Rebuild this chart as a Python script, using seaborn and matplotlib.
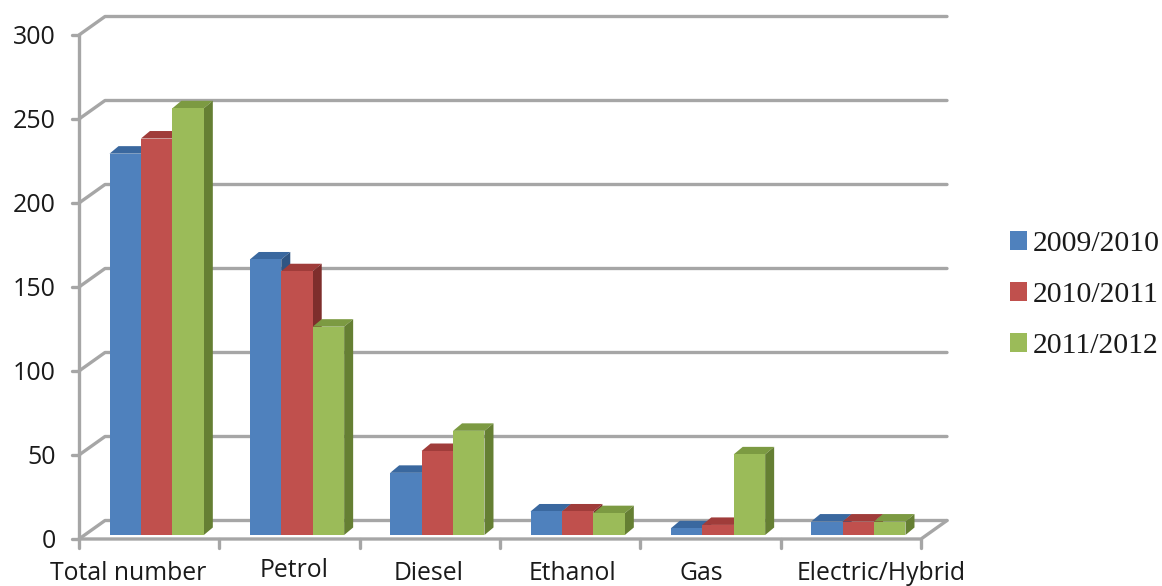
import matplotlib
matplotlib.use("Agg")
import matplotlib.pyplot as plt
import pandas as pd
import seaborn as sns
from matplotlib.patches import Polygon

# Vehicle counts per fuel type and season
categories = ["Total number", "Petrol", "Diesel", "Ethanol", "Gas", "Electric/Hybrid"]
seasons = ["2009/2010", "2010/2011", "2011/2012"]
values_2009 = [227, 164, 37, 14, 4, 8]
values_2010 = [236, 157, 50, 14, 6, 8]
values_2011 = [254, 124, 62, 13, 48, 8]
y_ticks = [0, 50, 100, 150, 200, 250, 300]

face_colors = ["#4F81BD", "#C0504D", "#9BBB59"]
top_colors = ["#3A689F", "#A03C3A", "#7C9A42"]
side_colors = ["#2F5583", "#7E2E2C", "#657F33"]
LINE = "#A6A6A6"

W, H = 1162, 586
fig = plt.figure(figsize=(W / 100, H / 100), dpi=100, facecolor="white")
ax = fig.add_axes([79 / W, 1 - 539 / H, (921 - 79) / W, (539 - 35) / H])

df = pd.DataFrame({
    "category": categories * 3,
    "season": [s for s in seasons for _ in categories],
    "value": values_2009 + values_2010 + values_2011,
})
sns.barplot(data=df, x="category", y="value", hue="season", order=categories,
            hue_order=seasons, palette=face_colors, width=0.672, gap=0,
            saturation=1, errorbar=None, ax=ax, legend=False)

ax.set_xlim(-0.5, 5.5)
ax.set_ylim(0, 300)
for s in ax.spines.values():
    s.set_visible(False)
ax.patch.set_visible(False)
ax.set_xlabel("")
ax.set_ylabel("")

# Pixel lengths expressed in data units for the oblique projection
px_x = 6 / (921 - 79)
px_y = 300 / (539 - 35)
wall_dx, wall_dy = 26 * px_x, 18.5 * px_y      # floor depth
front_dx, front_dy = 7.5 * px_x, 4 * px_y      # bar front face inset
bar_dx, bar_dy = 9 * px_x, 7.5 * px_y          # bar depth

left, right = -0.5, 5.5
kw = dict(color=LINE, lw=2.4, clip_on=False, solid_capstyle="round", zorder=1)
for t in y_ticks:
    ax.plot([left, left + wall_dx, right + wall_dx],
            [t, t + wall_dy, t + wall_dy], **kw)
    ax.plot([left - 7 * px_x, left], [t, t], **kw)
ax.plot([left, left], [0, 300], **kw)
ax.plot([left, right, right + wall_dx], [0, 0, wall_dy], **kw)
for i in range(7):
    ax.plot([left + i, left + i], [0, -9 * px_y], **kw)

# Extrude each bar: top and side faces behind a shifted front face
n = len(categories)
for idx, patch in enumerate(ax.patches[:3 * n]):
    series = idx // n
    x0 = patch.get_x() + front_dx
    x1 = x0 + patch.get_width()
    h = patch.get_height()
    base = front_dy
    z = 3 + series * 3
    top = Polygon([(x0, h + base), (x1, h + base),
                   (x1 + bar_dx, h + base + bar_dy), (x0 + bar_dx, h + base + bar_dy)],
                  closed=True, fc=top_colors[series], ec="none", clip_on=False, zorder=z)
    side = Polygon([(x1, base), (x1, h + base),
                    (x1 + bar_dx, h + base + bar_dy), (x1 + bar_dx, base + bar_dy)],
                   closed=True, fc=side_colors[series], ec="none", clip_on=False, zorder=z + 1)
    ax.add_patch(top)
    ax.add_patch(side)
    patch.set_x(x0)
    patch.set_y(base)
    patch.set_zorder(z + 2)
    patch.set_clip_on(False)
    patch.set_linewidth(0)

ax.set_xticks([])
ax.tick_params(axis="both", length=0)
ax.set_yticks(y_ticks)
ax.set_yticklabels([])
sans = "Open Sans"
for t in y_ticks:
    ax.text(left - 23.5 * px_x, t - 2 * px_y, str(t), ha="right", va="center", fontsize=18,
            family=sans, color="#1a1a1a", clip_on=False)

# Category captions sit slightly off the slot centres
nudges_x = [-21, 5, -1, 2, -9, 30]
nudges_y = [0, 3, 0, 0, 0, 0]
for i, (cat, nx, ny) in enumerate(zip(categories, nudges_x, nudges_y)):
    ax.text(i + nx * px_x, -41 * px_y + ny * px_y, cat, ha="center", va="baseline",
            fontsize=17.8, family=sans, color="#1a1a1a", clip_on=False)

handles = [plt.Rectangle((0, 0), 1, 1, fc=c, ec="none") for c in face_colors]
fig.legend(handles, seasons, loc="center left", bbox_to_anchor=(1001 / W, 1 - 295 / H),
           frameon=False, prop={"family": "Liberation Serif", "size": 21.4},
           handlelength=0.56, handleheight=0.56, handletextpad=0.22, labelspacing=0.84,
           borderaxespad=0, borderpad=0.3, labelcolor="#1a1a1a")

fig.savefig("out.png", dpi=100)
